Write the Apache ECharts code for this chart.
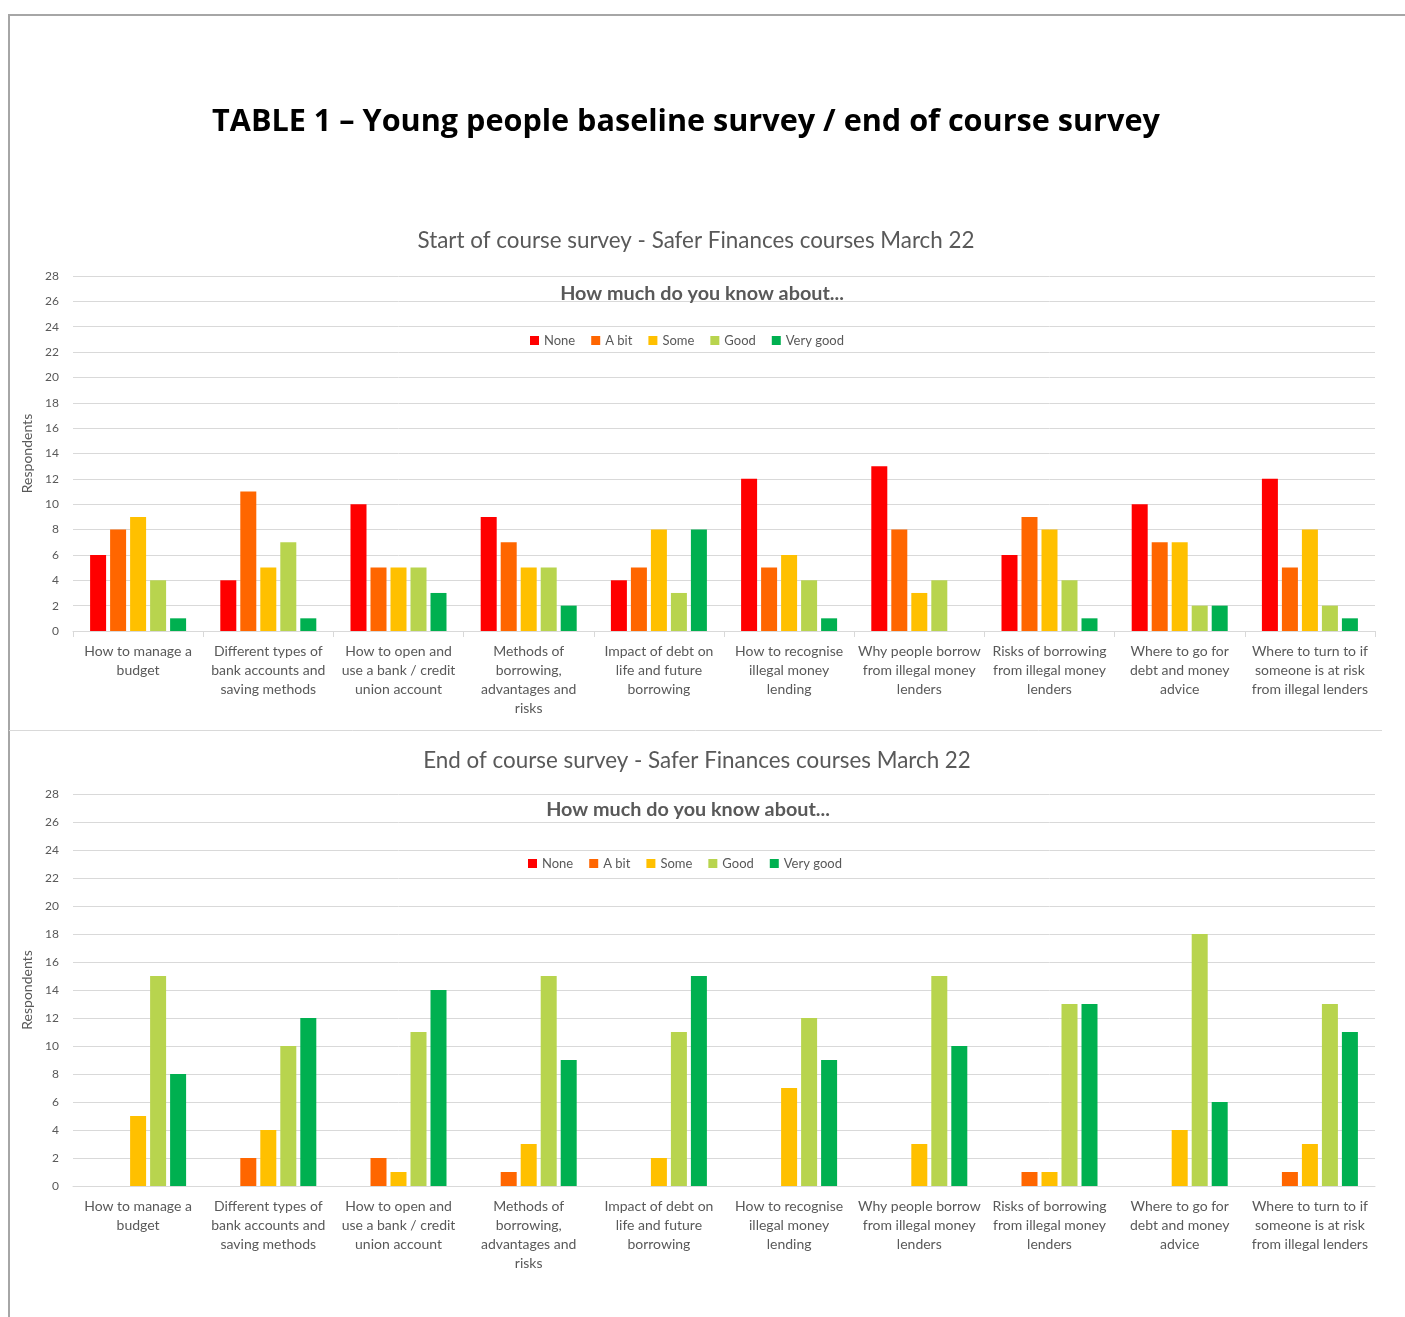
<!DOCTYPE html>
<html>
<head>
<meta charset="utf-8">
<script src="https://cdn.jsdelivr.net/npm/echarts@6/dist/echarts.min.js"></script>
<style>
html,body{margin:0;padding:0;background:#fff;}
#chart{width:1405px;height:1317px;}
</style>
</head>
<body>
<div id="chart"></div>
<script>
const categories = [
  "How to manage a\nbudget",
  "Different types of\nbank accounts and\nsaving methods",
  "How to open and\nuse a bank / credit\nunion account",
  "Methods of\nborrowing,\nadvantages and\nrisks",
  "Impact of debt on\nlife and future\nborrowing",
  "How to recognise\nillegal money\nlending",
  "Why people borrow\nfrom illegal money\nlenders",
  "Risks of borrowing\nfrom illegal money\nlenders",
  "Where to go for\ndebt and money\nadvice",
  "Where to turn to if\nsomeone is at risk\nfrom illegal lenders"
];
const seriesNames = ["None", "A bit", "Some", "Good", "Very good"];
const seriesColors = ["#FF0000", "#FF6600", "#FFC000", "#B8D44E", "#00B050"];

// Start of course survey
const startNone     = [6, 4, 10, 9, 4, 12, 13, 6, 10, 12];
const startABit     = [8, 11, 5, 7, 5, 5, 8, 9, 7, 5];
const startSome     = [9, 5, 5, 5, 8, 6, 3, 8, 7, 8];
const startGood     = [4, 7, 5, 5, 3, 4, 4, 4, 2, 2];
const startVeryGood = [1, 1, 3, 2, 8, 1, 0, 1, 2, 1];

// End of course survey
const endNone     = [0, 0, 0, 0, 0, 0, 0, 0, 0, 0];
const endABit     = [0, 2, 2, 1, 0, 0, 0, 1, 0, 1];
const endSome     = [5, 4, 1, 3, 2, 7, 3, 1, 4, 3];
const endGood     = [15, 10, 11, 15, 11, 12, 15, 13, 18, 13];
const endVeryGood = [8, 12, 14, 9, 15, 9, 10, 13, 6, 11];

const yTicks = { min: 0, max: 28, interval: 2 };

const mainTitle = "TABLE 1 \u2013 Young people baseline survey / end of course survey";
const chartTitles = ["Start of course survey - Safer Finances courses March 22", "End of course survey - Safer Finances courses March 22"];
const subTitle = "How much do you know about...";
const yAxisName = "Respondents";

const startData = [startNone, startABit, startSome, startGood, startVeryGood];
const endData = [endNone, endABit, endSome, endGood, endVeryGood];

const FONT = "Lato, 'Open Sans', sans-serif";
const GREY = "#595959";

const chart = echarts.init(document.getElementById('chart'), null, {renderer: 'canvas'});

function xAxis(gridIndex, ticks) {
  return {
    type: 'category', gridIndex: gridIndex, data: categories,
    axisLine: {show: true, lineStyle: {color: '#d9d9d9', width: 1}},
    axisTick: {show: ticks, alignWithLabel: false, interval: 0, length: 6, lineStyle: {color: '#d9d9d9'}},
    axisLabel: {interval: 0, color: GREY, fontFamily: FONT, fontSize: 14, lineHeight: 19, margin: 11}
  };
}
function yAxis(gridIndex) {
  return {
    type: 'value', gridIndex: gridIndex, min: yTicks.min, max: yTicks.max, interval: yTicks.interval,
    name: yAxisName, nameLocation: 'middle', nameGap: 36, nameRotate: 90,
    nameTextStyle: {color: GREY, fontFamily: FONT, fontSize: 14},
    axisLine: {show: false}, axisTick: {show: false},
    axisLabel: {color: GREY, fontFamily: FONT, fontSize: 12, margin: 14},
    splitLine: {lineStyle: {color: '#d9d9d9', width: 1}}
  };
}

const series = [];
[startData, endData].forEach((ds, gi) => {
  ds.forEach((arr, si) => {
    series.push({
      type: 'bar', name: seriesNames[si], xAxisIndex: gi, yAxisIndex: gi,
      data: arr, barWidth: 16, barGap: '25%',
      itemStyle: {color: seriesColors[si], borderWidth: 0},
      emphasis: {disabled: true}
    });
  });
});

const legendCommon = {
  data: seriesNames, icon: 'rect', itemWidth: 9, itemHeight: 9, itemGap: 16,
  textStyle: {color: GREY, fontFamily: FONT, fontSize: 13}
};

chart.setOption({
  animation: false,
  color: seriesColors,
  title: [
    {text: mainTitle, left: 681, top: 102, textAlign: 'center',
     textStyle: {fontFamily: "'Open Sans', sans-serif", fontWeight: 'bold', fontSize: 30.6, color: '#000'}},
    {text: chartTitles[0], left: 691, top: 225, textAlign: 'center',
     textStyle: {fontFamily: FONT, fontWeight: 'normal', fontSize: 22.4, color: GREY}},
    {text: subTitle, left: 697, top: 279, textAlign: 'center',
     textStyle: {fontFamily: FONT, fontWeight: 'bold', fontSize: 19.8, color: GREY}},
    {text: chartTitles[1], left: 692, top: 745, textAlign: 'center',
     textStyle: {fontFamily: FONT, fontWeight: 'normal', fontSize: 22.4, color: GREY}},
    {text: subTitle, left: 683, top: 795, textAlign: 'center',
     textStyle: {fontFamily: FONT, fontWeight: 'bold', fontSize: 19.8, color: GREY}}
  ],
  legend: [
    Object.assign({left: 525, top: 329}, legendCommon),
    Object.assign({left: 523, top: 852}, legendCommon)
  ],
  grid: [
    {left: 73, right: 30, top: 276, height: 355},
    {left: 73, right: 30, top: 794, height: 392}
  ],
  xAxis: [xAxis(0, true), xAxis(1, false)],
  yAxis: [yAxis(0), yAxis(1)],
  series: series,
  graphic: [
    {type: 'line', shape: {x1: 8, y1: 15, x2: 1405, y2: 15}, style: {stroke: '#a6a6a6', lineWidth: 2}, silent: true},
    {type: 'line', shape: {x1: 9, y1: 14, x2: 9, y2: 1317}, style: {stroke: '#a6a6a6', lineWidth: 2}, silent: true},
    {type: 'line', shape: {x1: 9, y1: 730.5, x2: 1382, y2: 730.5}, style: {stroke: '#d9d9d9', lineWidth: 1}, silent: true}
  ]
});
</script>
</body>
</html>
